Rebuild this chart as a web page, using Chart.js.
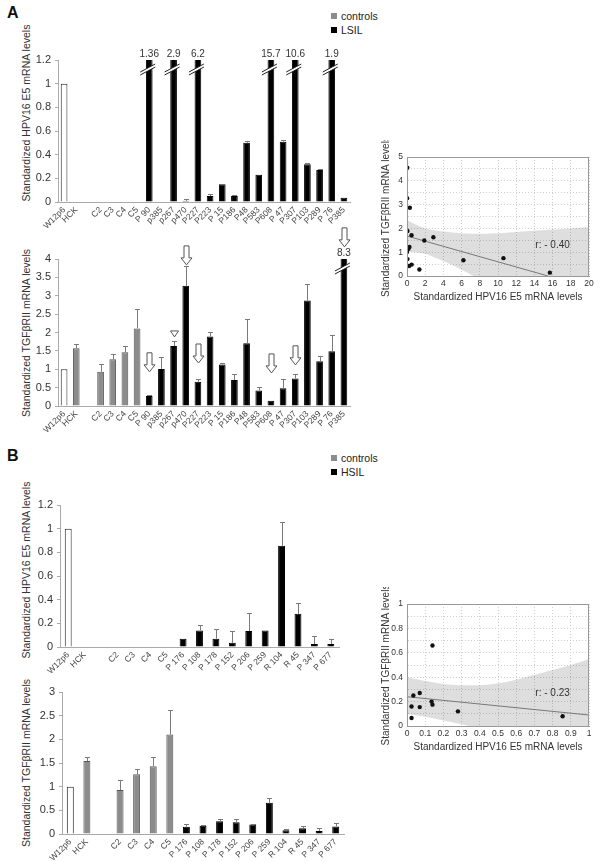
<!DOCTYPE html>
<html>
<head>
<meta charset="utf-8">
<script src="https://cdn.jsdelivr.net/npm/chart.js@4.4.1/dist/chart.umd.min.js"></script>
<style>
  body { margin: 0; width: 600px; height: 862px; position: relative; overflow: hidden; background: #fff; font-family: "Liberation Sans", Arial, sans-serif; color: #222; }
  canvas { position: absolute; }
  .panel { position: absolute; font-size: 16px; font-weight: bold; color: #111; }
  .legend { position: absolute; font-size: 10.5px; line-height: 14px; white-space: nowrap; color: #222; }
  .legend i { display: inline-block; width: 6px; height: 6px; margin-right: 4px; vertical-align: 1px; }
  .ytitle { position: absolute; white-space: nowrap; font-size: 10.5px; color: #333; transform: translate(-50%, -50%) rotate(-90deg); }
</style>
</head>
<body>
<div class="panel" style="left:7px;top:4px">A</div>
<div class="legend" style="left:331px;top:9px"><i style="background:#8c8c8c"></i>controls<br><i style="background:#000"></i>LSIL</div>
<div class="panel" style="left:7px;top:447px">B</div>
<div class="legend" style="left:331px;top:451px"><i style="background:#8c8c8c"></i>controls<br><i style="background:#000"></i>HSIL</div>

<div class="ytitle" style="left:26px;top:113px">Standardized HPV16 E5 mRNA levels</div>
<div class="ytitle" style="left:26px;top:333px">Standardized TGFβRII mRNA levels</div>
<div class="ytitle" style="left:26px;top:570px">Standardized HPV16 E5 mRNA levels</div>
<div class="ytitle" style="left:26px;top:763px">Standardized TGFβRII mRNA levels</div>

<canvas id="a1" width="360" height="242" style="left:0;top:0"></canvas>
<canvas id="a2" width="360" height="224" style="left:0;top:222px"></canvas>
<canvas id="as" width="220" height="163" style="left:380px;top:140px"></canvas>
<canvas id="b1" width="350" height="227" style="left:0;top:460px"></canvas>
<canvas id="b2" width="360" height="192" style="left:0;top:680px"></canvas>
<canvas id="bs" width="220" height="166" style="left:380px;top:587px"></canvas>

<script>
Chart.defaults.font.family = '"Liberation Sans", Arial, sans-serif';
Chart.defaults.color = '#333';

// ---- panel A: LSIL ----
const lsilLabels = ['W12p6', 'HCK', '', 'C2', 'C3', 'C4', 'C5', 'P 90', 'p385', 'p267', 'p470', 'P227', 'P223', 'P 15', 'P186', 'P48', 'P583', 'P608', 'P 47', 'P307', 'P103', 'P289', 'P 76', 'P385'];
const lsilGroups = ['ref', 'ctrl', '', 'ctrl', 'ctrl', 'ctrl', 'ctrl', 'case', 'case', 'case', 'case', 'case', 'case', 'case', 'case', 'case', 'case', 'case', 'case', 'case', 'case', 'case', 'case', 'case'];
const lsilE5 = [1, 0, null, 0, 0, 0, 0, 1.36, 0, 2.9, 0.01, 6.2, 0.05, 0.15, 0.05, 0.5, 0.23, 15.7, 0.51, 10.6, 0.32, 0.27, 1.9, 0.035];
const lsilE5Err = [0, 0, null, 0, 0, 0, 0, 0, 0, 0, 0.012, 0, 0.02, 0, 0.012, 0.012, 0, 0, 0.015, 0, 0.01, 0.012, 0, 0];
const lsilTgf = [1, 1.57, null, 0.93, 1.27, 1.46, 2.11, 0.27, 1.01, 1.63, 3.27, 0.66, 1.89, 1.13, 0.71, 1.71, 0.42, 0.14, 0.48, 0.75, 2.87, 1.22, 1.49, 8.3];
const lsilTgfErr = [0, 0.12, null, 0.21, 0.14, 0.16, 0.52, 0.04, 0.33, 0.15, 0.55, 0.07, 0.12, 0.03, 0.16, 0.66, 0.09, 0, 0.25, 0.13, 0.46, 0.13, 0.45, 0];
// open arrows / triangle over the TGF bars (tip value on the y scale)
const lsilArrows = ['P 90', 'P227', 'p470', 'P608', 'P307', 'P385'];
const lsilArrowTips = [0.93, 1.17, 3.84, 0.9, 1.12, 4.33];
const lsilTriangles = ['p267'];
const lsilTriangleTips = [1.88];

const lsilScatterE5 = [1.36, 0, 2.9, 0.01, 6.2, 0.05, 0.15, 0.05, 0.5, 0.23, 15.7, 0.51, 10.6, 0.31, 0.27, 1.9, 0.03];
const lsilScatterTgf = [0.27, 1.01, 1.63, 3.27, 0.66, 1.89, 1.13, 0.71, 1.71, 0.42, 0.14, 0.48, 0.75, 2.87, 1.22, 1.49, 4.55];
const lsilFitX = [0, 15.5];
const lsilFitY = [1.68, 0];
const lsilBandX = [0, 1, 2, 3, 4, 6, 8, 10, 12, 14, 16, 18, 20];
const lsilBandHi = [2.35, 2.15, 2.0, 1.92, 1.87, 1.8, 1.78, 1.8, 1.85, 1.9, 1.95, 2.0, 2.05];
const lsilBandLo = [1.01, 0.99, 0.93, 0.78, 0.63, 0.26, -0.15, -0.6, -1.1, -1.6, -2.1, -2.6, -3.1];

// ---- panel B: HSIL ----
const hsilLabels = ['W12p6', 'HCK', '', 'C2', 'C3', 'C4', 'C5', 'P 176', 'P 108', 'P 178', 'P 152', 'P 206', 'P 259', 'R 104', 'R 45', 'P 347', 'P 677'];
const hsilGroups = ['ref', 'ctrl', '', 'ctrl', 'ctrl', 'ctrl', 'ctrl', 'case', 'case', 'case', 'case', 'case', 'case', 'case', 'case', 'case', 'case'];
const hsilE5 = [1, 0, null, 0, 0, 0, 0, 0.07, 0.14, 0.07, 0.035, 0.135, 0.14, 0.855, 0.28, 0.025, 0.025];
const hsilE5Err = [0, 0, null, 0, 0, 0, 0, 0, 0.05, 0.08, 0.1, 0.15, 0, 0.2, 0.09, 0.065, 0.045];
const hsilTgf = [1, 1.54, null, 0.93, 1.26, 1.43, 2.1, 0.155, 0.175, 0.27, 0.25, 0.2, 0.66, 0.08, 0.12, 0.065, 0.16];
const hsilTgfErr = [0, 0.08, null, 0.21, 0.12, 0.19, 0.51, 0.055, 0.025, 0.05, 0.07, 0.01, 0.11, 0.02, 0.05, 0.055, 0.07];

const hsilScatterE5 = [0.07, 0.14, 0.07, 0.035, 0.135, 0.14, 0.855, 0.28, 0.025, 0.025];
const hsilScatterTgf = [0.155, 0.175, 0.27, 0.25, 0.2, 0.66, 0.08, 0.12, 0.065, 0.16];
const hsilFitX = [0, 1];
const hsilFitY = [0.24, 0.09];
const hsilBandX = [0, 0.1, 0.2, 0.3, 0.4, 0.5, 0.6, 0.7, 0.8, 0.9, 1];
const hsilBandHi = [0.40, 0.37, 0.345, 0.335, 0.335, 0.35, 0.38, 0.42, 0.46, 0.50, 0.55];
const hsilBandLo = [0.1, 0.075, 0.045, 0.015, -0.02, -0.06, -0.1, -0.15, -0.2, -0.25, -0.3];

const fills = { ref: '#ffffff', ctrl: '#8c8c8c', case: '#000000', '': '#000000' };
const edges = { ref: '#222222', ctrl: '#555555', case: '#000000', '': '#000000' };

function arrowPath(ctx, cx, ty) {
    ctx.beginPath();
    ctx.moveTo(cx, ty);
    ctx.lineTo(cx - 5.5, ty - 7);
    ctx.lineTo(cx - 2.5, ty - 7);
    ctx.lineTo(cx - 2.5, ty - 19);
    ctx.lineTo(cx + 2.5, ty - 19);
    ctx.lineTo(cx + 2.5, ty - 7);
    ctx.lineTo(cx + 5.5, ty - 7);
    ctx.closePath();
}

// error bars, broken bars and markers
const barExtras = {
    id: 'barExtras',
    afterDatasetsDraw(chart, args, opts) {
        const ctx = chart.ctx;
        const y = chart.scales.y;
        const meta = chart.getDatasetMeta(0);
        const values = chart.data.datasets[0].data;
        const labels = chart.data.labels;
        ctx.save();

        ctx.strokeStyle = '#7a7a7a';
        ctx.lineWidth = 1;
        opts.err.forEach((e, i) => {
            if (!e || values[i] == null) return;
            const cx = Math.round(meta.data[i].x) + 0.5;
            const y0 = y.getPixelForValue(values[i]);
            const y1 = Math.round(y.getPixelForValue(values[i] + e)) + 0.5;
            ctx.beginPath();
            ctx.moveTo(cx, y0); ctx.lineTo(cx, y1);
            ctx.moveTo(cx - 2.5, y1); ctx.lineTo(cx + 2.5, y1);
            ctx.stroke();
        });

        // values off the scale: break mark and the real value above
        ctx.font = '10px "Liberation Sans", Arial, sans-serif';
        ctx.textAlign = 'center';
        ctx.textBaseline = 'middle';
        values.forEach((v, i) => {
            if (v == null || v <= y.max) return;
            const cx = meta.data[i].x;
            const top = chart.chartArea.top;
            const yb = top + 9;
            ctx.beginPath();
            ctx.moveTo(cx - 9, yb + 3); ctx.lineTo(cx + 6, yb - 5);
            ctx.lineTo(cx + 6, yb - 2); ctx.lineTo(cx - 9, yb + 6);
            ctx.closePath();
            ctx.fillStyle = '#fff';
            ctx.fill();
            ctx.strokeStyle = '#222';
            ctx.beginPath();
            ctx.moveTo(cx - 9, yb + 3); ctx.lineTo(cx + 6, yb - 5);
            ctx.moveTo(cx - 9, yb + 6); ctx.lineTo(cx + 6, yb - 2);
            ctx.stroke();
            ctx.fillStyle = '#333';
            ctx.fillText(String(v), cx, top - 6);
        });

        ctx.strokeStyle = '#555';
        ctx.fillStyle = '#fff';
        (opts.arrows || []).forEach((name, k) => {
            const i = labels.indexOf(name);
            const cx = Math.round(meta.data[i].x) + 0.5;
            arrowPath(ctx, cx, y.getPixelForValue(opts.arrowTips[k]));
            ctx.fill(); ctx.stroke();
        });
        (opts.triangles || []).forEach((name, k) => {
            const i = labels.indexOf(name);
            const cx = Math.round(meta.data[i].x) + 0.5;
            const ty = y.getPixelForValue(opts.triangleTips[k]);
            ctx.beginPath();
            ctx.moveTo(cx, ty); ctx.lineTo(cx - 4, ty - 6); ctx.lineTo(cx + 4, ty - 6);
            ctx.closePath();
            ctx.fill(); ctx.stroke();
        });
        ctx.restore();
    }
};

// box round the scatter plot and the r value
const frameBox = {
    id: 'frameBox',
    afterDraw(chart, args, opts) {
        const ctx = chart.ctx;
        const { left, top, right, bottom } = chart.chartArea;
        ctx.save();
        ctx.strokeStyle = '#999';
        ctx.lineWidth = 1;
        ctx.strokeRect(Math.round(left) + 0.5, Math.round(top) + 0.5, Math.round(right - left) - 1, Math.round(bottom - top));
        ctx.font = '10px "Liberation Sans", Arial, sans-serif';
        ctx.fillStyle = '#333';
        ctx.textAlign = 'center';
        ctx.textBaseline = 'middle';
        ctx.fillText(opts.text, chart.scales.x.getPixelForValue(opts.x), chart.scales.y.getPixelForValue(opts.y));
        ctx.restore();
    }
};

function barChart(id, labels, groups, values, errs, yMax, yStep, box, marks) {
    return new Chart(document.getElementById(id), {
        type: 'bar',
        data: {
            labels: labels,
            datasets: [{
                data: values,
                backgroundColor: groups.map(g => fills[g]),
                borderColor: groups.map(g => edges[g]),
                borderWidth: 1,
                barPercentage: box.bar,
                categoryPercentage: 1
            }]
        },
        options: {
            responsive: false,
            animation: false,
            layout: { padding: { top: box.top, right: box.right, left: 0, bottom: 0 } },
            plugins: {
                legend: { display: false },
                tooltip: { enabled: false },
                barExtras: Object.assign({ err: errs }, marks)
            },
            scales: {
                x: {
                    grid: { display: false, drawTicks: false },
                    border: { color: '#aaa' },
                    ticks: { autoSkip: false, minRotation: 45, maxRotation: 45, padding: 3, color: '#444', font: { size: 8.5 } },
                    afterFit: s => { s.height = box.xh; }
                },
                y: {
                    min: 0,
                    max: yMax,
                    ticks: { stepSize: yStep, padding: 4, color: '#333', font: { size: 11 }, callback: v => +v.toFixed(2) },
                    grid: { drawOnChartArea: false, tickLength: 3, color: '#aaa' },
                    border: { color: '#aaa' },
                    afterFit: s => { s.width = box.yw; }
                }
            }
        },
        plugins: [barExtras]
    });
}

function scatterChart(id, xs, ys, fitX, fitY, bandX, bandHi, bandLo, sc) {
    const zip = (a, b) => a.map((v, i) => ({ x: v, y: b[i] }));
    const near = (v, step) => Math.abs(v / step - Math.round(v / step)) < 1e-6;
    return new Chart(document.getElementById(id), {
        type: 'line',
        data: {
            datasets: [
                { data: zip(xs, ys), showLine: false, pointRadius: 2.2, pointBackgroundColor: '#111', pointBorderWidth: 0 },
                { data: zip(fitX, fitY), borderColor: '#777', borderWidth: 1, pointRadius: 0 },
                { data: zip(bandX, bandHi), borderColor: 'rgba(0,0,0,0)', pointRadius: 0, fill: '+1', backgroundColor: 'rgba(0,0,0,0.13)', tension: 0.4 },
                { data: zip(bandX, bandLo), borderColor: 'rgba(0,0,0,0)', pointRadius: 0, tension: 0.4 }
            ]
        },
        options: {
            responsive: false,
            animation: false,
            layout: { padding: { top: 17, right: 11, left: 0, bottom: 0 } },
            plugins: {
                legend: { display: false },
                tooltip: { enabled: false },
                frameBox: sc.r
            },
            scales: {
                x: {
                    type: 'linear',
                    min: 0,
                    max: sc.xMax,
                    ticks: { stepSize: sc.xStep, autoSkip: false, maxRotation: 0, padding: 3, font: { size: 8.5 }, callback: v => +v.toFixed(1) },
                    grid: { color: '#cfcfcf', drawTicks: false },
                    border: { color: '#999', dash: [1, 2] },
                    title: { display: true, text: 'Standardized HPV16 E5 mRNA levels', font: { size: 10 }, padding: 0 },
                    afterFit: s => { s.height = 27; }
                },
                y: {
                    min: 0,
                    max: sc.yMax,
                    ticks: { stepSize: sc.yStep, autoSkip: false, padding: 4, font: { size: 8.5 }, callback: v => near(v, sc.yLabel) ? +v.toFixed(1) : '' },
                    grid: { color: '#cfcfcf', drawTicks: false },
                    border: { color: '#999', dash: [1, 2] },
                    title: { display: true, text: 'Standardized TGFβRII mRNA levels', font: { size: 10 }, padding: 0 },
                    afterFit: s => { s.width = 27; }
                }
            }
        },
        plugins: [frameBox]
    });
}

barChart('a1', lsilLabels, lsilGroups, lsilE5, lsilE5Err, 1.2, 0.2,
    { top: 60, right: 10, xh: 40, yw: 58, bar: 0.55 }, {});
barChart('a2', lsilLabels, lsilGroups, lsilTgf, lsilTgfErr, 4, 0.5,
    { top: 37, right: 10, xh: 40, yw: 58, bar: 0.55 },
    { arrows: lsilArrows, arrowTips: lsilArrowTips, triangles: lsilTriangles, triangleTips: lsilTriangleTips });
scatterChart('as', lsilScatterE5, lsilScatterTgf, lsilFitX, lsilFitY, lsilBandX, lsilBandHi, lsilBandLo,
    { xMax: 20, xStep: 2, yMax: 5, yStep: 0.5, yLabel: 1, r: { text: 'r: - 0.40', x: 16, y: 1.3 } });

barChart('b1', hsilLabels, hsilGroups, hsilE5, hsilE5Err, 1.2, 0.2,
    { top: 45, right: 11, xh: 40, yw: 60, bar: 0.42 }, {});
barChart('b2', hsilLabels, hsilGroups, hsilTgf, hsilTgfErr, 3, 0.5,
    { top: 12, right: 16, xh: 38, yw: 62, bar: 0.42 }, {});
scatterChart('bs', hsilScatterE5, hsilScatterTgf, hsilFitX, hsilFitY, hsilBandX, hsilBandHi, hsilBandLo,
    { xMax: 1, xStep: 0.1, yMax: 1, yStep: 0.1, yLabel: 0.2, r: { text: 'r: - 0.23', x: 0.8, y: 0.27 } });
</script>
</body>
</html>
